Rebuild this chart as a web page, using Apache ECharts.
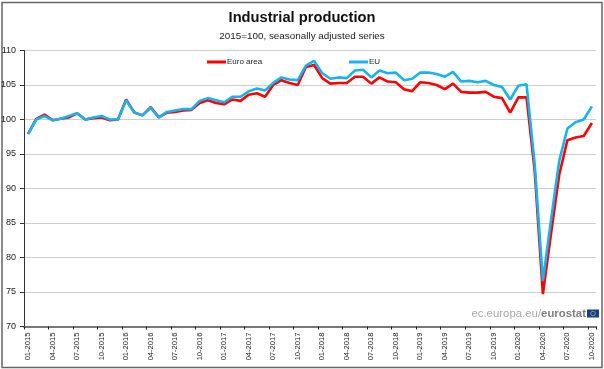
<!DOCTYPE html>
<html><head><meta charset="utf-8">
<style>html,body{margin:0;padding:0;background:#fff}#c{width:604px;height:369px}</style>
<script src="https://cdn.jsdelivr.net/npm/echarts@6/dist/echarts.min.js"></script>
</head><body><div id="c"></div>
<script>
const startYear = 2015, monthCount = 70;
const categories = [];
for (let i = 0; i < monthCount; i++) {
  const m = (i % 12) + 1, y = startYear + Math.floor(i / 12);
  categories.push((m < 10 ? '0' + m : '' + m) + '-' + y);
}
const euroArea = [97.9,100.1,100.7,99.9,100.1,100.3,100.9,100,100.2,100.3,99.9,100,
  102.9,101,100.6,101.8,100.3,101,101.1,101.3,101.4,102.4,102.8,102.4,
  102.2,102.9,102.7,103.6,103.8,103.3,105,105.7,105.3,105,107.6,107.9,
  106,105.2,105.3,105.3,106.2,106.2,105.2,106.1,105.5,105.4,104.4,104.1,
  105.4,105.3,105,104.4,105.2,104,103.9,103.9,104,103.3,103.1,101,
  103.2,103.2,92.5,74.7,83.5,92,97,97.4,97.6,99.5];
const eu = [97.9,100,100.5,99.9,100.1,100.5,100.9,100,100.3,100.5,100,100,
  102.8,101,100.6,101.7,100.3,101.1,101.3,101.5,101.5,102.7,103.1,102.8,
  102.5,103.3,103.3,104.1,104.5,104.2,105.3,106.1,105.8,105.7,107.8,108.5,
  106.7,105.9,106.1,106,107.1,107.2,106.1,107.1,106.7,106.8,105.7,105.9,
  106.8,106.8,106.6,106.2,106.9,105.5,105.6,105.4,105.6,105,104.7,102.9,
  104.9,105.1,93.5,76.6,85.5,94,98.7,99.6,100,101.9];
const FONT = '"Liberation Sans", Arial, sans-serif';
const chart = echarts.init(document.getElementById('c'), null, {renderer:'canvas'});
chart.setOption({
  animation:false,
  backgroundColor:'#fff',
  textStyle:{fontFamily:FONT},
  title:[
    {text:'Industrial production',left:'center',top:10,padding:0,textStyle:{fontFamily:FONT,fontSize:14.7,fontWeight:'bold',color:'#111'}},
    {text:'2015=100, seasonally adjusted series',left:'center',top:31,padding:0,textStyle:{fontFamily:FONT,fontSize:9.9,fontWeight:'normal',color:'#222'}}
  ],
  legend:[
    {data:['Euro area'],left:207,top:58,icon:'rect',itemWidth:19,itemHeight:3,itemGap:0,padding:0,textStyle:{fontFamily:FONT,fontSize:8,color:'#222',padding:[0,0,0,-4]}},
    {data:['EU'],left:349,top:58,icon:'rect',itemWidth:19,itemHeight:3,itemGap:0,padding:0,textStyle:{fontFamily:FONT,fontSize:8,color:'#222',padding:[0,0,0,-4]}}
  ],
  grid:{left:24,right:8,top:50.5,bottom:42.5,outerBoundsMode:'none'},
  xAxis:{type:'category',data:categories,boundaryGap:true,
    axisLine:{lineStyle:{color:'#777',width:2}},
    axisTick:{show:true,interval:2,length:3,lineStyle:{color:'#222',width:1}},
    axisLabel:{interval:2,rotate:90,fontSize:7.6,color:'#222',margin:6,fontFamily:FONT},
    splitLine:{show:false}},
  yAxis:{type:'value',min:70,max:110,interval:5,
    axisLine:{show:true,lineStyle:{color:'#333',width:1}},
    axisTick:{show:true,length:4,lineStyle:{color:'#333'}},
    axisLabel:{fontSize:9,color:'#222',margin:8,fontFamily:FONT},
    splitLine:{show:true,lineStyle:{color:'#cfcfcf',width:1.2}}},
  series:[
    {name:'Euro area',type:'line',data:euroArea,symbol:'none',smooth:false,lineStyle:{color:'#ff0000',width:2.6},itemStyle:{color:'#ff0000'}},
    {name:'EU',type:'line',data:eu,symbol:'none',smooth:false,lineStyle:{color:'#14b4ee',width:2.6},itemStyle:{color:'#14b4ee'}}
  ],
  graphic:[
    {type:'rect',z:-1,silent:true,shape:{x:2,y:2.5,width:600,height:365},style:{fill:'none',stroke:'#666',lineWidth:1.5}},
    {type:'text',z:5,right:18,top:308,style:{
      rich:{a:{fontFamily:FONT,fontSize:11.4,fill:'#aaaaaa',fontWeight:'normal'},b:{fontFamily:FONT,fontSize:11.4,fill:'#808080',fontWeight:'bold'}},
      text:'{a|ec.europa.eu/}{b|eurostat}'}},
    {type:'rect',z:5,shape:{x:587,y:309.5,width:12,height:8},style:{fill:'#10408f'}},
    {type:'circle',z:6,shape:{cx:593,cy:313.5,r:2.3},style:{fill:'none',stroke:'#c9b93a',lineWidth:0.7}}
  ]
});
</script></body></html>
